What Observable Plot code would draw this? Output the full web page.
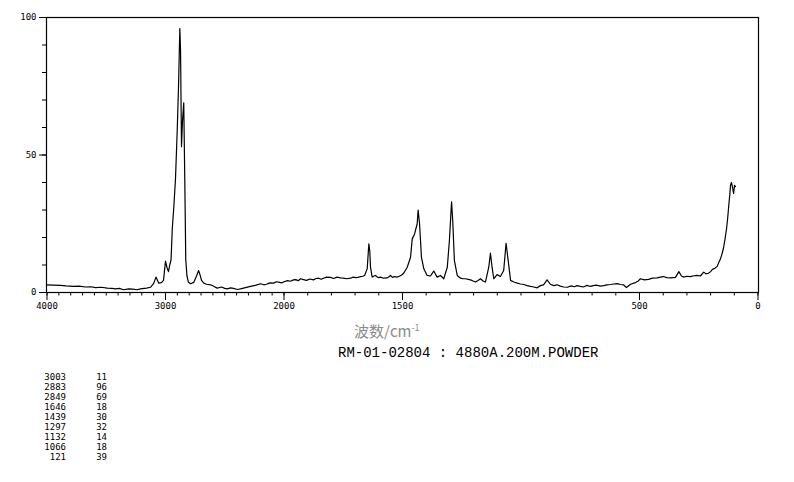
<!DOCTYPE html>
<html>
<head>
<meta charset="utf-8">
<script src="https://cdn.jsdelivr.net/npm/d3@7"></script>
<script src="https://cdn.jsdelivr.net/npm/@observablehq/plot@0.6"></script>
<style>
  html, body { margin: 0; padding: 0; background: #fff; }
  #wrap { position: relative; width: 794px; height: 482px; overflow: hidden; background: #fff; }
  #chart { position: absolute; left: 0; top: 0; }
  .xlabel { position: absolute; left: 354px; top: 320px; font-family: "Noto Sans CJK SC", sans-serif; font-size: 15px; color: #8c8c8c; white-space: nowrap; }
  .xlabel sup { font-size: 9px; }
  .subtitle { position: absolute; left: 338px; top: 345px; font-family: "Liberation Mono", monospace; font-size: 14px; color: #000; white-space: nowrap; }
  .peaks { position: absolute; left: 0; top: 372px; font-family: "DejaVu Sans Mono", monospace; font-size: 9px; line-height: 10px; color: #000; }
  .peaks div { position: relative; height: 10px; }
  .peaks span { position: absolute; top: 0; text-align: right; }
</style>
</head>
<body>
<div id="wrap">
  <div id="chart"></div>
  <div class="xlabel">波数/cm<sup>-1</sup></div>
  <div class="subtitle">RM-01-02804 : 4880A.200M.POWDER</div>
  <div class="peaks" id="peaks"></div>
</div>
<script>
// Raman spectrum (wavenumber cm-1, intensity)
const wavenumber = [
  4000, 3950, 3886, 3840, 3776, 3730, 3675, 3630, 3591, 3540, 3492, 3450, 3422, 3390, 3354, 3310, 3278, 3240, 3211, 3180, 3160, 3127, 3101,
  3080, 3057, 3034, 3017, 3000, 2987, 2975, 2964, 2953, 2943, 2930, 2916, 2901, 2890, 2879, 2873, 2865, 2857, 2846, 2837, 2829, 2819, 2806,
  2789, 2761, 2738, 2721, 2709, 2696, 2677, 2654, 2620, 2590, 2564, 2527, 2500, 2479, 2450, 2426, 2395, 2367, 2325, 2283, 2241, 2198, 2170,
  2148, 2120, 2089, 2065, 2046, 2020, 2000,
  1985, 1973, 1960, 1951, 1940, 1930, 1918, 1905, 1890, 1876, 1865, 1854, 1843, 1833, 1820, 1804, 1790, 1776, 1762, 1749, 1735, 1719, 1708,
  1698, 1688, 1677, 1668, 1660, 1649, 1642, 1638, 1635, 1628, 1620, 1614, 1603, 1593, 1580, 1565, 1557, 1551, 1542, 1534, 1525, 1516, 1505,
  1495, 1480, 1466, 1459, 1449, 1438, 1434, 1428, 1420, 1410, 1396, 1382, 1368, 1354, 1340, 1326, 1311, 1302, 1293, 1288, 1281, 1269, 1255,
  1245, 1234, 1223, 1213, 1202, 1192, 1181, 1171, 1160, 1150, 1136, 1129, 1122, 1115, 1101, 1087, 1073, 1063, 1054, 1044, 1030, 1016, 1002,
  988, 974, 960, 946, 932, 918, 905, 890, 876, 862, 848, 834, 820, 805, 787, 775, 763, 750, 736, 722, 707, 695, 682, 665, 651, 637, 622,
  608, 594, 580, 568, 555, 538, 517, 505, 496, 480, 462, 445, 426, 412, 399, 385, 369, 348, 334, 323, 313, 300, 285, 270, 257, 243, 229,
  220, 209, 200, 192, 182, 172, 165, 158, 152, 146, 139, 133, 128, 123, 119, 116, 112, 107, 103, 99, 95
];
const intensity = [
  2.8, 2.7, 2.6, 2.4, 2.2, 2.3, 2.0, 2.1, 1.8, 1.9, 1.6, 1.5, 1.3, 1.5, 1.0, 1.3, 1.2, 1.0, 1.3, 1.5, 1.6, 1.9, 3.2,
  5.6, 3.4, 3.6, 4.4, 11.4, 9.0, 7.6, 10.0, 12.0, 23.0, 31.0, 41.0, 59.0, 75.0, 96.0, 88.0, 53.0, 62.0, 69.0, 40.0, 12.0, 6.0, 3.7,
  3.2, 3.7, 6.0, 8.0, 6.5, 4.4, 3.4, 3.0, 2.8, 2.2, 1.6, 2.0, 1.5, 1.3, 1.7, 1.5, 1.1, 1.3, 1.8, 2.2, 2.6, 3.2, 2.8,
  3.0, 3.5, 3.4, 3.9, 3.8, 3.5, 3.9,
  4.3, 4.1, 4.6, 4.7, 4.3, 5.0, 4.7, 4.4, 4.9, 4.6, 5.1, 5.2, 4.8, 5.2, 5.6, 5.5, 5.1, 5.6, 5.3, 5.2, 5.0, 5.2, 5.6,
  5.4, 5.5, 5.8, 5.9, 6.2, 8.6, 17.7, 15.0, 9.2, 5.6, 6.0, 6.2, 5.4, 5.6, 5.2, 5.3, 5.7, 6.2, 5.5, 5.8, 5.6, 5.8, 6.3,
  7.0, 9.2, 12.8, 19.5, 21.3, 25.0, 30.0, 25.0, 12.8, 8.6, 6.2, 6.0, 7.8, 5.6, 6.2, 5.0, 9.2, 19.0, 33.0, 26.0, 11.6, 6.2, 5.2,
  5.0, 5.0, 4.8, 4.6, 4.2, 3.8, 4.4, 5.0, 4.2, 3.8, 9.2, 14.3, 9.2, 5.0, 6.5, 5.8, 8.0, 17.9, 11.6, 4.4, 3.8, 3.4, 3.1,
  2.9, 2.5, 2.2, 2.0, 1.7, 2.5, 2.8, 4.6, 3.0, 2.5, 2.8, 2.3, 2.0, 1.9, 2.4, 2.1, 2.5, 2.2, 2.0, 2.6, 2.2, 2.5, 2.7, 2.3, 2.5, 2.8, 2.9,
  3.1, 3.2, 2.9, 2.8, 1.8, 3.0, 3.6, 4.2, 5.0, 4.6, 4.8, 5.2, 5.3, 5.6, 5.8, 5.4, 5.3, 5.5, 7.6, 6.0, 5.6, 5.9, 5.8, 6.1, 6.2, 6.0, 7.4,
  6.8, 7.0, 7.6, 8.4, 8.8, 9.5, 11.0, 12.3, 14.0, 16.0, 19.5, 23.0, 27.0, 32.0, 35.5, 39.0, 40.0, 38.0, 36.0, 39.0, 38.5
];

// peak table
const peakWavenumbers = ["3003", "2883", "2849", "1646", "1439", "1297", "1132", "1066", "121"];
const peakIntensities = ["11", "96", "69", "18", "30", "32", "14", "18", "39"];

// axis ticks
const xTickLabels = [4000, 3000, 2000, 1500, 500, 0];
const yTickLabels = [0, 50, 100];

const spectrum = wavenumber.map((w, i) => ({w, v: intensity[i]}));

const plot = Plot.plot({
  width: 794,
  height: 320,
  marginTop: 17,
  marginBottom: 28,
  marginLeft: 46,
  marginRight: 36,
  style: {fontFamily: "DejaVu Sans Mono, monospace", fontSize: "9px", background: "#fff", color: "#000"},
  x: {type: "linear", domain: [4000, 2000, 0], range: [46.5, 283.5, 757.5]},
  y: {domain: [0, 100], range: [292, 17]},
  marks: [
    Plot.frame({stroke: "#000", strokeWidth: 1.2}),
    Plot.axisX({ticks: d3.range(0, 4001, 100), tickSize: 3.5, tickFormat: () => "", label: null}),
    Plot.axisX({ticks: xTickLabels, tickSize: 8, tickPadding: 2, tickFormat: d => String(d), label: null}),
    Plot.axisY({ticks: d3.range(0, 101, 10), tickSize: 4, tickFormat: () => "", label: null}),
    Plot.axisY({ticks: yTickLabels, tickSize: 7, tickPadding: 3, tickFormat: d => String(d), label: null}),
    Plot.line(spectrum, {x: "w", y: "v", stroke: "#000", strokeWidth: 1.2})
  ]
});
document.getElementById("chart").appendChild(plot);

// peak list
const peaksEl = document.getElementById("peaks");
peakWavenumbers.forEach((w, i) => {
  const row = document.createElement("div");
  const a = document.createElement("span");
  a.textContent = w;
  a.style.right = "auto";
  a.style.left = (66 - w.length * 5.42) + "px";
  const b = document.createElement("span");
  b.textContent = peakIntensities[i];
  b.style.left = (107 - peakIntensities[i].length * 5.42) + "px";
  row.appendChild(a);
  row.appendChild(b);
  peaksEl.appendChild(row);
});
</script>
</body>
</html>
